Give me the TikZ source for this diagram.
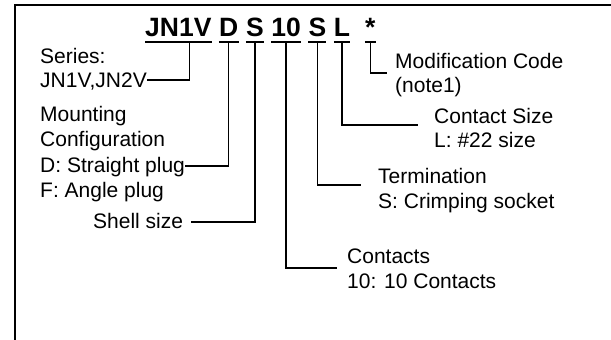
\documentclass[tikz,border=0pt]{standalone}
\usepackage{fontspec}
\setmainfont{Liberation Sans}
\usetikzlibrary{positioning}
\newcommand{\codefont}{\fontsize{26.5}{30}\selectfont\bfseries}
\newcommand{\descfont}{\fontsize{21}{25}\selectfont}

\begin{document}
\begin{tikzpicture}[x=1pt,y=-1pt,
  code/.style={font=\codefont,inner sep=0pt},
  desc/.style={font=\descfont,inner sep=0pt,anchor=base west},
  conn/.style={line width=1.3pt},
  uline/.style={line width=2.4pt},
  frame/.style={line width=2pt}]
  % Ordering code breakdown -- units are px of the 611x340 sheet, y down
  \useasboundingbox (0,0) rectangle (611,340);
  \def\ul{6pt}      % underline offset below code baseline
  \def\sp{7.3pt}    % bold word space
  % --- Frame ---
  \draw[frame] (611,5) -- (15,5) -- (15,340);
  % --- Code letters ---
  \node[code,anchor=base west] (jn) at (145,36) {JN1V};
  \node[code,base right=\sp of jn] (dd) {D};
  \node[code,base right=\sp of dd] (ss) {S};
  \node[code,base right=\sp of ss] (nn) {10};
  \node[code,base right=\sp of nn] (tt) {S};
  \node[code,base right=\sp of tt] (ll) {L};
  \node[code,base right=2*\sp of ll] (mm) {*};
  \foreach \c in {jn,dd,ss,nn,tt,ll,mm}
    \draw[uline] ([yshift=-\ul]\c.base west) -- ([yshift=-\ul]\c.base east);
  % --- Left descriptions ---
  \node[desc] (ser) at (40,63) {Series:};
  \node[desc] (jnlist) at (40,87) {JN1V,JN2V};
  \node[desc] (mnt) at (40,121) {Mounting};
  \node[desc] (cfg) at (40,146) {Configuration};
  \node[desc] (dplug) at (40,172) {D: Straight plug};
  \node[desc] (fplug) at (40,197) {F: Angle plug};
  \node[desc] (shell) at (93,228) {Shell size};
  % --- Right descriptions ---
  \node[desc] (modc) at (395,68) {Modification Code};
  \node[desc] (note) at (395,92) {(note1)};
  \node[desc] (csize) at (434,123) {Contact Size};
  \node[desc] (l22) at (434,147) {L: \#22 size};
  \node[desc] (term) at (378,183) {Termination};
  \node[desc] (crimp) at (378,208) {S: Crimping socket};
  \node[desc] (cont) at (347,263) {Contacts};
  \node[desc] (ten) at (347,288) {10: 10 Contacts};
  % --- Leaders ---
  \draw[conn] ([xshift=11pt,yshift=-\ul]jn.base) |- ([yshift=7pt]jnlist.base east);
  \draw[conn] ([yshift=-\ul]dd.base) |- ([yshift=6pt]dplug.base east);
  \draw[conn] ([yshift=-\ul]ss.base) |- ([xshift=8pt,yshift=6pt]shell.base east);
  \draw[conn] ([yshift=-\ul]nn.base) |- ([xshift=-10pt,yshift=-5pt]cont.base west);
  \draw[conn] ([yshift=-\ul]tt.base) |- ([xshift=-17pt,yshift=-2pt]term.base west);
  \draw[conn] ([yshift=-\ul]ll.base) |- ([xshift=-16pt,yshift=-2pt]csize.base west);
  \draw[conn] ([yshift=-\ul]mm.base) |- ([xshift=-8pt,yshift=-5pt]modc.base west);
\end{tikzpicture}
\end{document}
